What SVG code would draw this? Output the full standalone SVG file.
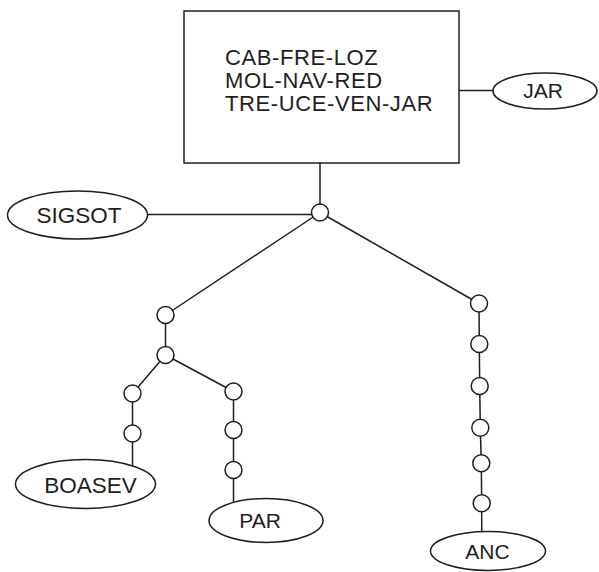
<svg xmlns="http://www.w3.org/2000/svg" width="599" height="572" viewBox="0 0 599 572">
<style>
.bg{fill:#ffffff}
.edge{stroke:#1e1e1e;stroke-width:1.5;fill:none}
.box{fill:#ffffff;stroke:#1e1e1e;stroke-width:1.5}
.pt{fill:#ffffff;stroke:#1e1e1e;stroke-width:1.5}
.ell{fill:#ffffff;stroke:#1e1e1e;stroke-width:1.5}
.txt{font-family:"Liberation Sans",Arial,sans-serif;font-size:22px;letter-spacing:0.6px;fill:#1e1e1e}
.lbl{font-family:"Liberation Sans",Arial,sans-serif;font-size:22.5px;fill:#1e1e1e;text-anchor:middle}
.sm{font-size:21px}
</style>
<rect class="bg" x="0" y="0" width="599" height="572"/>
<g id="connectors">
<line class="edge" x1="320" y1="163" x2="320" y2="212"/>
<line class="edge" x1="459" y1="90.5" x2="494" y2="90.5"/>
<line class="edge" x1="147" y1="214.5" x2="320" y2="214.5"/>
<line class="edge" x1="320" y1="212.5" x2="165.5" y2="315"/>
<line class="edge" x1="320" y1="212.5" x2="479" y2="303.5"/>
<line class="edge" x1="165.5" y1="315" x2="165.5" y2="355"/>
<line class="edge" x1="165.5" y1="355" x2="132.5" y2="393.5"/>
<line class="edge" x1="165.5" y1="355" x2="233.5" y2="391.5"/>
<line class="edge" x1="132.5" y1="393.5" x2="132.5" y2="433.5"/>
<line class="edge" x1="132.5" y1="433.5" x2="132.5" y2="468"/>
<line class="edge" x1="233.5" y1="391.5" x2="233.5" y2="430"/>
<line class="edge" x1="233.5" y1="430" x2="233.5" y2="470"/>
<line class="edge" x1="233.5" y1="470" x2="233.5" y2="502"/>
<line class="edge" x1="479" y1="303.5" x2="479.3" y2="344"/>
<line class="edge" x1="479.3" y1="344" x2="479.7" y2="386"/>
<line class="edge" x1="479.7" y1="386" x2="480.3" y2="427.7"/>
<line class="edge" x1="480.3" y1="427.7" x2="481.3" y2="463.3"/>
<line class="edge" x1="481.3" y1="463.3" x2="481.7" y2="503.3"/>
<line class="edge" x1="481.7" y1="503.3" x2="481.7" y2="533"/>
</g>
<g id="box-main">
<rect class="box" x="184" y="11" width="275" height="152"/>
<text class="txt" x="225" y="64.5">CAB-FRE-LOZ</text>
<text class="txt" x="225" y="87.5">MOL-NAV-RED</text>
<text class="txt" x="225" y="110.5">TRE-UCE-VEN-JAR</text>
</g>
<g id="node-jar">
<ellipse class="ell" cx="545" cy="91" rx="52" ry="18"/>
<text class="lbl sm" x="543" y="97.5">JAR</text>
</g>
<g id="node-sigsot">
<ellipse class="ell" cx="77.5" cy="215" rx="70" ry="24"/>
<text class="lbl" x="79" y="222.5">SIGSOT</text>
</g>
<g id="junction-0"><circle class="pt" cx="320" cy="212.5" r="8.5"/></g>
<g id="junction-l1"><circle class="pt" cx="165.5" cy="315" r="8.5"/></g>
<g id="junction-l2"><circle class="pt" cx="165.5" cy="355" r="8.5"/></g>
<g id="junction-ll1"><circle class="pt" cx="132.5" cy="393.5" r="8.5"/></g>
<g id="junction-ll2"><circle class="pt" cx="132.5" cy="433.5" r="8.5"/></g>
<g id="junction-lr1"><circle class="pt" cx="233.5" cy="391.5" r="8.5"/></g>
<g id="junction-lr2"><circle class="pt" cx="233.5" cy="430" r="8.5"/></g>
<g id="junction-lr3"><circle class="pt" cx="233.5" cy="470" r="8.5"/></g>
<g id="junction-r1"><circle class="pt" cx="479" cy="303.5" r="8.5"/></g>
<g id="junction-r2"><circle class="pt" cx="479.3" cy="344" r="8.5"/></g>
<g id="junction-r3"><circle class="pt" cx="479.7" cy="386" r="8.5"/></g>
<g id="junction-r4"><circle class="pt" cx="480.3" cy="427.7" r="8.5"/></g>
<g id="junction-r5"><circle class="pt" cx="481.3" cy="463.3" r="8.5"/></g>
<g id="junction-r6"><circle class="pt" cx="481.7" cy="503.3" r="8.5"/></g>
<g id="node-boasev">
<ellipse class="ell" cx="85.5" cy="484" rx="70" ry="24.5"/>
<text class="lbl" x="90.5" y="492.5">BOASEV</text>
</g>
<g id="node-par">
<ellipse class="ell" cx="266" cy="520.5" rx="57" ry="22"/>
<text class="lbl sm" x="260" y="527.5">PAR</text>
</g>
<g id="node-anc">
<ellipse class="ell" cx="488" cy="551" rx="57.5" ry="19.5"/>
<text class="lbl sm" x="487.5" y="558.5">ANC</text>
</g>
</svg>
